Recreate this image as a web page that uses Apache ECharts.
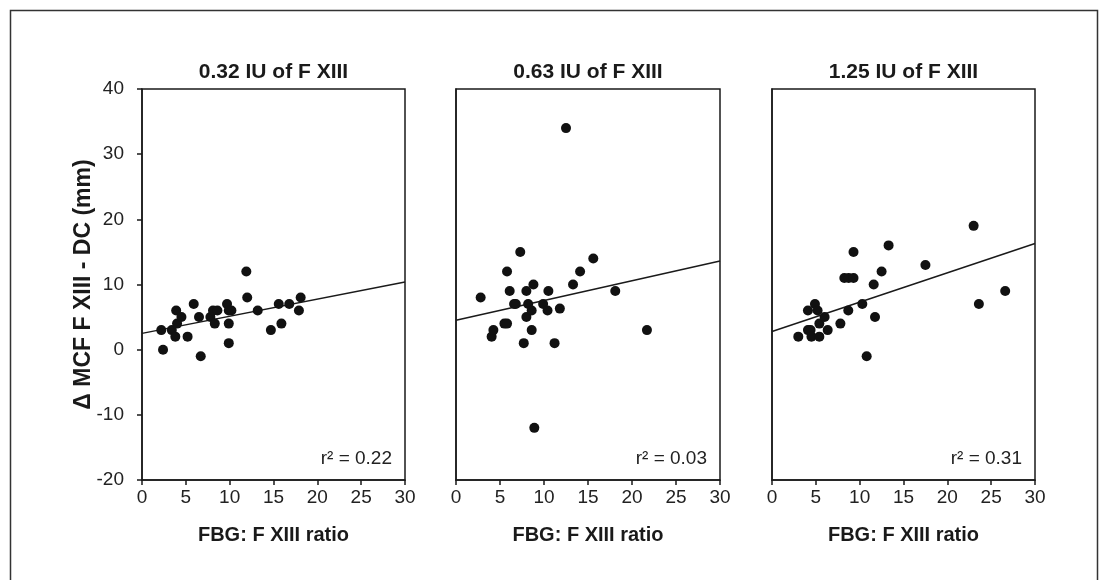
<!DOCTYPE html>
<html>
<head>
<meta charset="utf-8">
<script src="https://cdn.jsdelivr.net/npm/echarts@6/dist/echarts.min.js"></script>
<style>
html,body{margin:0;padding:0;background:#fff;}
#chart{width:1103px;height:580px;}
</style>
</head>
<body>
<div id="chart"></div>
<script>
// ---- Data ----
const panelTitles = ['0.32 IU of F XIII', '0.63 IU of F XIII', '1.25 IU of F XIII'];
const r2Values = ['0.22', '0.03', '0.31'];
const xAxisName = 'FBG: F XIII ratio';
const yAxisName = '\u0394 MCF F XIII - DC (mm)';

const x1 = [2.4, 2.2, 3.4, 3.8, 3.9, 4.0, 4.5, 5.2, 5.9, 6.5, 6.7, 7.8, 8.1, 8.3, 8.6, 9.7, 9.9, 10.2, 9.9, 9.9, 11.9, 12.0, 13.2, 14.7, 15.6, 15.9, 16.8, 18.1, 17.9];
const y1 = [0, 3, 3, 2, 6, 4, 5, 2, 7, 5, -1, 5, 6, 4, 6, 7, 6, 6, 4, 1, 12, 8, 6, 3, 7, 4, 7, 8, 6];

const x2 = [2.8, 4.05, 4.25, 5.5, 5.8, 5.8, 6.1, 6.6, 6.8, 7.3, 7.7, 8.0, 8.0, 8.2, 8.6, 8.6, 8.8, 8.9, 9.9, 10.5, 10.4, 11.2, 11.8, 12.5, 13.3, 14.1, 15.6, 18.1, 21.7];
const y2 = [8, 2, 3, 4, 4, 12, 9, 7, 7, 15, 1, 9, 5, 7, 6, 3, 10, -12, 7, 9, 6, 1, 6.3, 34, 10, 12, 14, 9, 3];

const x3 = [3.0, 4.1, 4.1, 4.4, 4.5, 4.9, 5.2, 5.4, 5.4, 6.0, 6.35, 7.8, 8.25, 8.7, 8.75, 9.3, 9.3, 10.3, 10.8, 11.6, 11.75, 12.5, 13.3, 17.5, 23.0, 23.6, 26.6];
const y3 = [2, 6, 3, 3, 2, 7, 6, 4, 2, 5, 3, 4, 11, 6, 11, 11, 15, 7, -1, 10, 5, 12, 16, 13, 19, 7, 9];

// regression line y-values at x = 0 and x = 30
const fitAtStart = [2.5, 4.5, 2.8];
const fitAtEnd = [10.4, 13.6, 16.3];

const xMin = 0, xMax = 30, xStep = 5;
const yMin = -20, yMax = 40, yStep = 10;

// ---- Chart ----
const xs = [x1, x2, x3];
const ys = [y1, y2, y3];
const FONT = 'Liberation Sans, Arial, Helvetica, sans-serif';
const INK = '#1a1a1a';

const gridPos = [
  {left: 142, top: 89, width: 263, height: 391},
  {left: 456, top: 89, width: 264, height: 391},
  {left: 772, top: 89, width: 263, height: 391}
];

const grids = gridPos.map(g => Object.assign({
  show: true, borderColor: INK, borderWidth: 1.5, backgroundColor: '#fff'
}, g));

const xAxes = gridPos.map((g, i) => ({
  type: 'value', gridIndex: i, min: xMin, max: xMax, interval: xStep,
  name: xAxisName, nameLocation: 'middle', nameGap: 45, nameMoveOverlap: false,
  nameTextStyle: {fontFamily: FONT, fontWeight: 'bold', fontSize: 20, color: INK},
  axisLine: {show: true, onZero: false, lineStyle: {color: INK, width: 1.5}},
  axisTick: {show: true, length: 5, lineStyle: {color: INK, width: 1.5}},
  axisLabel: {fontFamily: FONT, fontSize: 19, color: '#222', margin: 8},
  splitLine: {show: false}
}));

const yAxes = gridPos.map((g, i) => ({
  type: 'value', gridIndex: i, min: yMin, max: yMax, interval: yStep,
  name: i === 0 ? yAxisName : '', nameLocation: 'middle', nameGap: 47, nameMoveOverlap: false,
  nameTextStyle: {fontFamily: FONT, fontWeight: 'bold', fontSize: 23, color: INK},
  axisLine: {show: true, onZero: false, lineStyle: {color: INK, width: 1.5}},
  axisTick: {show: i === 0, length: 5, lineStyle: {color: INK, width: 1.5}},
  axisLabel: {show: i === 0, fontFamily: FONT, fontSize: 19, color: '#222', margin: 18},
  splitLine: {show: false}
}));

const series = [];
for (let i = 0; i < 3; i++) {
  series.push({
    type: 'line', xAxisIndex: i, yAxisIndex: i,
    data: [[xMin, fitAtStart[i]], [xMax, fitAtEnd[i]]],
    showSymbol: false, symbol: 'none', silent: true,
    lineStyle: {color: INK, width: 1.5}, z: 2
  });
  series.push({
    type: 'scatter', xAxisIndex: i, yAxisIndex: i,
    data: xs[i].map((x, k) => [x, ys[i][k]]),
    symbol: 'circle', symbolSize: 10,
    itemStyle: {color: '#111', opacity: 1}, z: 3
  });
}

const titles = [];
gridPos.forEach((g, i) => {
  titles.push({
    text: panelTitles[i], left: g.left + g.width / 2, top: 62, textAlign: 'center', padding: 0,
    textStyle: {fontFamily: FONT, fontWeight: 'bold', fontSize: 21, color: INK}
  });
  titles.push({
    text: 'r\u00B2 = ' + r2Values[i], right: 1103 - (g.left + g.width - 13), top: 449, padding: 0,
    textStyle: {fontFamily: FONT, fontWeight: 'normal', fontSize: 19, color: '#222'}
  });
});

const chart = echarts.init(document.getElementById('chart'), null, {renderer: 'canvas'});
chart.setOption({
  animation: false,
  backgroundColor: '#fff',
  title: titles,
  grid: grids,
  xAxis: xAxes,
  yAxis: yAxes,
  series: series,
  graphic: [{
    type: 'rect', silent: true, z: 100,
    shape: {x: 10.5, y: 10.5, width: 1087, height: 640},
    style: {fill: 'none', stroke: '#333', lineWidth: 1.5}
  }]
});
</script>
</body>
</html>
